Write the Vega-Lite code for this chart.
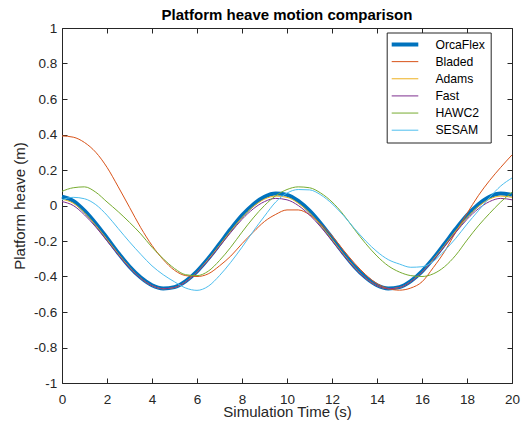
{
  "$schema": "https://vega.github.io/schema/vega-lite/v6.json",
  "width": 450,
  "height": 355,
  "autosize": {"type": "none"},
  "padding": {"left": 62, "top": 28, "right": 13, "bottom": 52},
  "background": "white",
  "config": {
    "font": "Liberation Sans",
    "view": {"stroke": "#262626", "strokeWidth": 1},
    "axis": {
      "grid": false,
      "domain": false,
      "tickColor": "#262626",
      "tickSize": -5,
      "tickWidth": 1,
      "labelColor": "#262626",
      "labelFont": "Liberation Sans",
      "labelFontSize": 13.5,
      "labelFlush": false,
      "labelOverlap": false,
      "titleFont": "Liberation Sans",
      "titleFontSize": 15,
      "titleFontWeight": "normal",
      "titleColor": "#262626"
    }
  },
  "title": {
    "text": "Platform heave motion comparison",
    "font": "Liberation Sans",
    "fontSize": 15,
    "fontWeight": "bold",
    "color": "black",
    "anchor": "middle",
    "frame": "group",
    "offset": -2
  },
  "data": {
    "values": [
      {"t": 0, "OrcaFlex": 0.05, "Bladed": 0.392, "Adams": 0.035, "Fast": 0.022, "HAWC2": 0.08, "SESAM": 0.032},
      {"t": 0.5, "OrcaFlex": 0.026, "Bladed": 0.385, "Adams": 0.013, "Fast": 0.0, "HAWC2": 0.1, "SESAM": 0.046},
      {"t": 1, "OrcaFlex": -0.029, "Bladed": 0.355, "Adams": -0.041, "Fast": -0.053, "HAWC2": 0.105, "SESAM": 0.038},
      {"t": 1.5, "OrcaFlex": -0.101, "Bladed": 0.3, "Adams": -0.112, "Fast": -0.121, "HAWC2": 0.075, "SESAM": 0.005},
      {"t": 2, "OrcaFlex": -0.183, "Bladed": 0.215, "Adams": -0.191, "Fast": -0.199, "HAWC2": 0.02, "SESAM": -0.055},
      {"t": 2.5, "OrcaFlex": -0.267, "Bladed": 0.105, "Adams": -0.273, "Fast": -0.278, "HAWC2": -0.035, "SESAM": -0.13},
      {"t": 3, "OrcaFlex": -0.344, "Bladed": -0.01, "Adams": -0.348, "Fast": -0.352, "HAWC2": -0.095, "SESAM": -0.205},
      {"t": 3.5, "OrcaFlex": -0.406, "Bladed": -0.125, "Adams": -0.41, "Fast": -0.411, "HAWC2": -0.16, "SESAM": -0.275},
      {"t": 4, "OrcaFlex": -0.449, "Bladed": -0.225, "Adams": -0.452, "Fast": -0.452, "HAWC2": -0.235, "SESAM": -0.34},
      {"t": 4.5, "OrcaFlex": -0.467, "Bladed": -0.305, "Adams": -0.469, "Fast": -0.469, "HAWC2": -0.3, "SESAM": -0.39},
      {"t": 5, "OrcaFlex": -0.46, "Bladed": -0.365, "Adams": -0.462, "Fast": -0.462, "HAWC2": -0.355, "SESAM": -0.43},
      {"t": 5.5, "OrcaFlex": -0.426, "Bladed": -0.395, "Adams": -0.429, "Fast": -0.43, "HAWC2": -0.39, "SESAM": -0.465},
      {"t": 6, "OrcaFlex": -0.371, "Bladed": -0.4, "Adams": -0.375, "Fast": -0.377, "HAWC2": -0.395, "SESAM": -0.478},
      {"t": 6.5, "OrcaFlex": -0.299, "Bladed": -0.385, "Adams": -0.304, "Fast": -0.309, "HAWC2": -0.37, "SESAM": -0.455},
      {"t": 7, "OrcaFlex": -0.217, "Bladed": -0.34, "Adams": -0.225, "Fast": -0.231, "HAWC2": -0.31, "SESAM": -0.395},
      {"t": 7.5, "OrcaFlex": -0.133, "Bladed": -0.285, "Adams": -0.143, "Fast": -0.152, "HAWC2": -0.235, "SESAM": -0.32},
      {"t": 8, "OrcaFlex": -0.056, "Bladed": -0.215, "Adams": -0.068, "Fast": -0.078, "HAWC2": -0.15, "SESAM": -0.235},
      {"t": 8.5, "OrcaFlex": 0.006, "Bladed": -0.15, "Adams": -0.006, "Fast": -0.019, "HAWC2": -0.07, "SESAM": -0.145},
      {"t": 9, "OrcaFlex": 0.049, "Bladed": -0.09, "Adams": 0.036, "Fast": 0.022, "HAWC2": 0.0, "SESAM": -0.06},
      {"t": 9.5, "OrcaFlex": 0.067, "Bladed": -0.05, "Adams": 0.053, "Fast": 0.04, "HAWC2": 0.055, "SESAM": 0.02},
      {"t": 10, "OrcaFlex": 0.06, "Bladed": -0.025, "Adams": 0.046, "Fast": 0.032, "HAWC2": 0.09, "SESAM": 0.07},
      {"t": 10.5, "OrcaFlex": 0.026, "Bladed": -0.025, "Adams": 0.013, "Fast": 0.0, "HAWC2": 0.105, "SESAM": 0.09},
      {"t": 11, "OrcaFlex": -0.029, "Bladed": -0.052, "Adams": -0.041, "Fast": -0.053, "HAWC2": 0.1, "SESAM": 0.088},
      {"t": 11.5, "OrcaFlex": -0.101, "Bladed": -0.105, "Adams": -0.112, "Fast": -0.121, "HAWC2": 0.07, "SESAM": 0.06},
      {"t": 12, "OrcaFlex": -0.183, "Bladed": -0.17, "Adams": -0.191, "Fast": -0.199, "HAWC2": 0.02, "SESAM": 0.01},
      {"t": 12.5, "OrcaFlex": -0.267, "Bladed": -0.25, "Adams": -0.273, "Fast": -0.278, "HAWC2": -0.05, "SESAM": -0.055},
      {"t": 13, "OrcaFlex": -0.344, "Bladed": -0.325, "Adams": -0.348, "Fast": -0.352, "HAWC2": -0.135, "SESAM": -0.13},
      {"t": 13.5, "OrcaFlex": -0.406, "Bladed": -0.39, "Adams": -0.41, "Fast": -0.411, "HAWC2": -0.215, "SESAM": -0.2},
      {"t": 14, "OrcaFlex": -0.449, "Bladed": -0.44, "Adams": -0.452, "Fast": -0.452, "HAWC2": -0.285, "SESAM": -0.26},
      {"t": 14.5, "OrcaFlex": -0.467, "Bladed": -0.468, "Adams": -0.469, "Fast": -0.469, "HAWC2": -0.34, "SESAM": -0.305},
      {"t": 15, "OrcaFlex": -0.46, "Bladed": -0.477, "Adams": -0.462, "Fast": -0.462, "HAWC2": -0.375, "SESAM": -0.33},
      {"t": 15.5, "OrcaFlex": -0.426, "Bladed": -0.465, "Adams": -0.429, "Fast": -0.43, "HAWC2": -0.395, "SESAM": -0.348},
      {"t": 16, "OrcaFlex": -0.371, "Bladed": -0.43, "Adams": -0.375, "Fast": -0.377, "HAWC2": -0.4, "SESAM": -0.345},
      {"t": 16.5, "OrcaFlex": -0.299, "Bladed": -0.35, "Adams": -0.304, "Fast": -0.309, "HAWC2": -0.385, "SESAM": -0.315},
      {"t": 17, "OrcaFlex": -0.217, "Bladed": -0.26, "Adams": -0.225, "Fast": -0.231, "HAWC2": -0.345, "SESAM": -0.255},
      {"t": 17.5, "OrcaFlex": -0.133, "Bladed": -0.15, "Adams": -0.143, "Fast": -0.152, "HAWC2": -0.28, "SESAM": -0.185},
      {"t": 18, "OrcaFlex": -0.056, "Bladed": -0.045, "Adams": -0.068, "Fast": -0.078, "HAWC2": -0.195, "SESAM": -0.105},
      {"t": 18.5, "OrcaFlex": 0.006, "Bladed": 0.055, "Adams": -0.006, "Fast": -0.019, "HAWC2": -0.115, "SESAM": -0.03},
      {"t": 19, "OrcaFlex": 0.049, "Bladed": 0.14, "Adams": 0.036, "Fast": 0.022, "HAWC2": -0.045, "SESAM": 0.045},
      {"t": 19.5, "OrcaFlex": 0.067, "Bladed": 0.215, "Adams": 0.053, "Fast": 0.04, "HAWC2": 0.02, "SESAM": 0.11},
      {"t": 20, "OrcaFlex": 0.06, "Bladed": 0.285, "Adams": 0.046, "Fast": 0.032, "HAWC2": 0.075, "SESAM": 0.155}
    ]
  },
  "transform": [
    {"fold": ["OrcaFlex", "Bladed", "Adams", "Fast", "HAWC2", "SESAM"], "as": ["series", "value"]}
  ],
  "encoding": {
    "color": {
      "field": "series",
      "type": "nominal",
      "scale": {
        "domain": ["OrcaFlex", "Bladed", "Adams", "Fast", "HAWC2", "SESAM"],
        "range": ["#0072BD", "#D95319", "#EDB120", "#7E2F8E", "#77AC30", "#4DBEEE"]
      },
      "legend": {
        "title": null,
        "orient": "none",
        "legendX": 324.7,
        "legendY": 4.5,
        "symbolType": "stroke",
        "symbolSize": 1681,
        "symbolStrokeWidth": 1,
        "clipHeight": 14,
        "rowPadding": 3.14,
        "padding": 5,
        "labelOffset": 31.5,
        "symbolOffset": 0,
        "strokeColor": "#262626",
        "fillColor": "white",
        "labelFont": "Liberation Sans",
        "labelFontSize": 12.2,
        "labelColor": "black",
        "labelLimit": 0,
        "encode": {
          "symbols": {
            "update": {
              "strokeWidth": {"signal": "datum.value === 'OrcaFlex' ? 4 : 1"}
            }
          }
        }
      }
    }
  },
  "resolve": {"axis": {"x": "independent", "y": "independent"}},
  "layer": [
    {
      "transform": [{"filter": "datum.series === 'OrcaFlex'"}],
      "mark": {"type": "line", "interpolate": "monotone", "strokeWidth": 4},
      "encoding": {
        "x": {
          "field": "t",
          "type": "quantitative",
          "scale": {"domain": [0, 20], "nice": false, "zero": false},
          "axis": {
            "orient": "bottom",
            "title": "Simulation Time (s)",
            "values": [0, 2, 4, 6, 8, 10, 12, 14, 16, 18, 20],
            "labelPadding": 14.8,
            "titleBaseline": "alphabetic",
            "titleY": 33.5
          }
        },
        "y": {
          "field": "value",
          "type": "quantitative",
          "scale": {"domain": [-1, 1], "nice": false, "zero": false},
          "axis": {
            "orient": "left",
            "title": "Platform heave (m)",
            "values": [-1, -0.8, -0.6, -0.4, -0.2, 0, 0.2, 0.4, 0.6, 0.8, 1],
            "format": ".1~f",
            "labelExpr": "replace(datum.label, '−', '-')",
            "labelPadding": 10.3,
            "titleBaseline": "alphabetic",
            "titleAlign": "center",
            "titleX": -38
          }
        }
      }
    },
    {
      "transform": [{"filter": "datum.series !== 'OrcaFlex'"}],
      "mark": {"type": "line", "interpolate": "monotone", "strokeWidth": 1},
      "encoding": {
        "x": {
          "field": "t",
          "type": "quantitative",
          "scale": {"domain": [0, 20], "nice": false, "zero": false},
          "axis": {
            "orient": "top",
            "title": null,
            "labels": false,
            "values": [0, 2, 4, 6, 8, 10, 12, 14, 16, 18, 20]
          }
        },
        "y": {
          "field": "value",
          "type": "quantitative",
          "scale": {"domain": [-1, 1], "nice": false, "zero": false},
          "axis": {
            "orient": "right",
            "title": null,
            "labels": false,
            "values": [-1, -0.8, -0.6, -0.4, -0.2, 0, 0.2, 0.4, 0.6, 0.8, 1]
          }
        }
      }
    }
  ]
}
